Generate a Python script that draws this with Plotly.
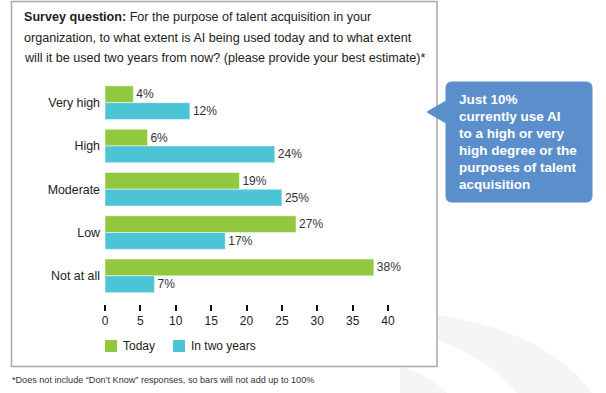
import plotly.graph_objects as go

categories = ["Very high", "High", "Moderate", "Low", "Not at all"]
today = [4, 6, 19, 27, 38]
two_years = [12, 24, 25, 17, 7]
x_ticks = [0, 5, 10, 15, 20, 25, 30, 35, 40]
series_names = ["Today", "In two years"]

W, H = 606, 393
PL, PR, PT, PB = 105, 388, 81, 304  # plot area in pixels

def px(x):
    return (x - PL) / (PR - PL)

def py(y):
    return (PB - y) / (PB - PT)

def pt(x, y):
    return f"{px(x)},{py(y)}"

GREEN = "#92C83E"
CYAN = "#4BC4D6"
FONT = "Liberation Sans, Arial, sans-serif"

fig = go.Figure()
fig.add_trace(go.Bar(
    y=categories, x=today, orientation="h", name=series_names[0],
    marker=dict(color=GREEN, line=dict(color="white", width=0.5)),
    text=[f"{v}%" for v in today], textposition="outside",
    textfont=dict(size=12, color="#333333", family=FONT), cliponaxis=False,
))
fig.add_trace(go.Bar(
    y=categories, x=two_years, orientation="h", name=series_names[1],
    marker=dict(color=CYAN, line=dict(color="white", width=0.5)),
    text=[f"{v}%" for v in two_years], textposition="outside",
    textfont=dict(size=12, color="#333333", family=FONT), cliponaxis=False,
))

shapes = []
# faint background watermark bands
shapes.append(dict(type="path", xref="paper", yref="paper", layer="below",
                   path=f"M {pt(438,315)} Q {pt(548,332)} {pt(592,393)} L {pt(517,393)} Q {pt(490,360)} {pt(438,340)} Z",
                   fillcolor="#F5F5F5", line=dict(width=0)))
shapes.append(dict(type="path", xref="paper", yref="paper", layer="below",
                   path=f"M {pt(405,368)} Q {pt(430,376)} {pt(447,393)} L {pt(400,393)} L {pt(400,368)} Z",
                   fillcolor="#F5F5F5", line=dict(width=0)))
# outer box
shapes.append(dict(type="rect", xref="paper", yref="paper",
                   x0=px(11.5), x1=px(437), y0=py(1.5), y1=py(366.5),
                   fillcolor="white",
                   line=dict(color="#A8A8A8", width=1.5), layer="below"))
# callout
L, R, T, B, r = 446, 592, 82, 202, 6
path = (f"M {pt(L + r, T)} L {pt(R - r, T)} Q {pt(R, T)} {pt(R, T + r)} "
        f"L {pt(R, B - r)} Q {pt(R, B)} {pt(R - r, B)} "
        f"L {pt(L + r, B)} Q {pt(L, B)} {pt(L, B - r)} "
        f"L {pt(L, 123)} L {pt(427, 112)} L {pt(L, 101)} "
        f"L {pt(L, T + r)} Q {pt(L, T)} {pt(L + r, T)} Z")
shapes.append(dict(type="path", xref="paper", yref="paper", path=path,
                   fillcolor="#5B8FCB", line=dict(color="#5B8FCB", width=1)))

# legend (drawn manually)
legend_items = [(105, GREEN, series_names[0]), (173, CYAN, series_names[1])]
annotations = []
for lx, col, name in legend_items:
    shapes.append(dict(type="rect", xref="paper", yref="paper",
                       x0=px(lx), x1=px(lx + 12), y0=py(340), y1=py(352),
                       fillcolor=col, line=dict(width=0)))
    annotations.append(dict(text=name, xref="paper", yref="paper",
                            x=px(lx + 16), y=py(346), xanchor="left", yanchor="middle",
                            showarrow=False, font=dict(size=12, color="#222222", family=FONT)))

title_lines = [
    "<b>Survey question:</b> For the purpose of talent acquisition in your",
    "organization, to what extent is AI being used today and to what extent",
    "will it be used two years from now? (please provide your best estimate)*",
]
for i, line in enumerate(title_lines):
    annotations.append(dict(text=line, xref="paper", yref="paper",
                            x=px(22), y=py(17 + i * 20.5), xanchor="left", yanchor="middle",
                            showarrow=False, font=dict(size=12.6, color="#222222", family=FONT)))
callout_lines = ["Just 10%", "currently use AI", "to a high or very",
                 "high degree or the", "purposes of talent", "acquisition"]
for i, line in enumerate(callout_lines):
    annotations.append(dict(text=f"<b>{line}</b>", xref="paper", yref="paper",
                            x=px(457), y=py(99 + i * 17), xanchor="left", yanchor="middle",
                            showarrow=False, font=dict(size=13.5, color="white", family=FONT)))
annotations.append(dict(text="*Does not include \u201cDon\u2019t Know\u201d responses, so bars will not add up to 100%",
                        xref="paper", yref="paper", x=px(10), y=py(380),
                        xanchor="left", yanchor="middle", showarrow=False,
                        font=dict(size=9.1, color="#333333", family=FONT)))

fig.update_layout(
    width=W, height=H,
    margin=dict(l=PL, r=W - PR, t=PT, b=H - PB, pad=0),
    paper_bgcolor="white", plot_bgcolor="rgba(0,0,0,0)",
    barmode="group", bargap=0.225, bargroupgap=0,
    font=dict(family=FONT, size=12, color="#222222"),
    xaxis=dict(range=[0, 40], tickvals=x_ticks, showgrid=False, zeroline=False,
               showline=False, ticks="outside", ticklen=6, tickwidth=1.5,
               tickcolor="#111111", tickfont=dict(size=12, color="#222222")),
    yaxis=dict(range=[4.65, -0.5], showgrid=False, zeroline=False, showline=False,
               ticks="", tickfont=dict(size=12.4, color="#222222"), ticklabelstandoff=4),
    showlegend=False,
    shapes=shapes, annotations=annotations,
)

fig.write_html("out.html", config={"displayModeBar": False},
               post_script="document.body.style.margin='0';")
